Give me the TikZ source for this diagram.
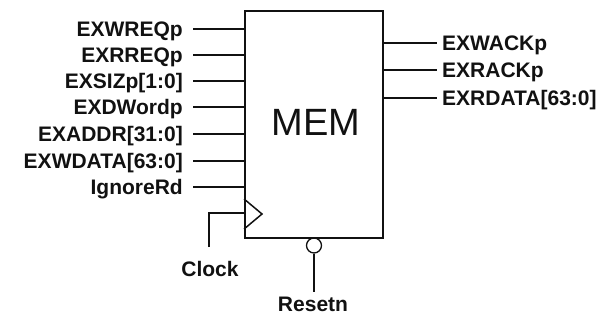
\documentclass[tikz,border=0pt]{standalone}
\usepackage{fontspec}
\setmainfont{Liberation Sans}
\usetikzlibrary{positioning}
\definecolor{wireblack}{HTML}{111111}
\definecolor{textdark}{HTML}{111111}

\begin{document}
\begin{tikzpicture}[
  x=1pt, y=-1pt,
  every node/.style={text=textdark},
  block/.style={
    rectangle, draw=wireblack, line width=1.8pt,
    minimum width=138pt, minimum height=227pt,
    inner sep=0pt
  },
  sig/.style={
    font=\bfseries\fontsize{21}{24}\selectfont,
    inner sep=0pt, text height=15pt, text depth=0pt
  },
  wire/.style={
    line width=1.3pt, color=wireblack
  }
]

% ── Canvas ────────────────────────────────────────────────────────────────
\useasboundingbox (0,0) rectangle (607,321);

% ── Memory block ──────────────────────────────────────────────────────────
\node[block] (mem) at (314,124.5) {};
\node[font=\fontsize{38}{40}\selectfont, inner sep=0pt,
      text height=27pt, text depth=0pt]
  (memname) at (316,121.5) {MEM};

% ── Inputs ────────────────────────────────────────────────────────────────
\node[sig, anchor=east] (wreq)  at (183,29)  {EXWREQp};
\node[sig, anchor=east] (rreq)  at (183,55)  {EXRREQp};
\node[sig, anchor=east] (siz)   at (183,81)  {EXSIZp[1:0]};
\node[sig, anchor=east] (dword) at (183,107) {EXDWordp};
\node[sig, anchor=east] (addr)  at (183,134) {EXADDR[31:0]};
\node[sig, anchor=east] (wdata) at (183,161) {EXWDATA[63:0]};
\node[sig, anchor=east] (ignrd) at (183,187) {IgnoreRd};

\draw[wire, shorten <=10pt] (wreq.east)  -- (mem.west |- wreq.east);
\draw[wire, shorten <=10pt] (rreq.east)  -- (mem.west |- rreq.east);
\draw[wire, shorten <=10pt] (siz.east)   -- (mem.west |- siz.east);
\draw[wire, shorten <=10pt] (dword.east) -- (mem.west |- dword.east);
\draw[wire, shorten <=10pt] (addr.east)  -- (mem.west |- addr.east);
\draw[wire, shorten <=10pt] (wdata.east) -- (mem.west |- wdata.east);
\draw[wire, shorten <=10pt] (ignrd.east) -- (mem.west |- ignrd.east);

% ── Outputs ───────────────────────────────────────────────────────────────
\node[sig, anchor=west] (wack)  at (442,43) {EXWACKp};
\node[sig, anchor=west] (rack)  at (442,70) {EXRACKp};
\node[sig, anchor=west] (rdata) at (442,98) {EXRDATA[63:0]};

\draw[wire, shorten >=5pt] (mem.east |- wack.west)  -- (wack.west);
\draw[wire, shorten >=5pt] (mem.east |- rack.west)  -- (rack.west);
\draw[wire, shorten >=5pt] (mem.east |- rdata.west) -- (rdata.west);

% ── Clock ─────────────────────────────────────────────────────────────────
\draw[wire, line width=1.5pt, line join=miter]
  (mem.west |- 0,199) -- (262,214) -- (mem.west |- 0,229);

\node[sig] (clock) at (210,269) {Clock};
\coordinate (clkend)  at (209,247);
\coordinate (clkbend) at (209,213);
\draw[wire] (clkend) -- (clkbend) -- (mem.west |- clkbend);

% ── Reset ─────────────────────────────────────────────────────────────────
\node[circle, draw=wireblack, line width=1.3pt,
      minimum size=15pt, inner sep=0pt]
  (rstbubble) at (314,245.5) {};

\node[sig] (resetn) at (313,304) {Resetn};
\coordinate (rstend) at (314,292);
\draw[wire] (rstbubble.south) -- (rstend);

\end{tikzpicture}
\end{document}
